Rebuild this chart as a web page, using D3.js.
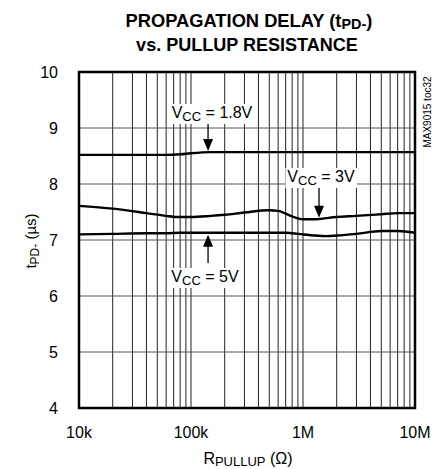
<!DOCTYPE html>
<html><head><meta charset="utf-8">
<script src="https://cdn.jsdelivr.net/npm/d3@7"></script>
<style>body{margin:0;background:#fff}svg{display:block;font-family:"Liberation Sans",Arial,sans-serif}</style>
</head><body><svg id="c" width="436" height="469"></svg>
<script>
const xTickValues = [1e4, 1e5, 1e6, 1e7];
const xTickLabels = ["10k", "100k", "1M", "10M"];
const yTickValues = [4, 5, 6, 7, 8, 9, 10];
const rVals = [1e4, 2e4, 4e4, 6e4, 8e4, 1e5, 1.5e5, 2e5, 3e5, 5e5, 6e5, 7e5, 8e5, 1e6, 1.3e6, 1.6e6, 2e6, 3e6, 5e6, 7e6, 1e7];
const vcc18 = [8.52, 8.52, 8.52, 8.52, 8.53, 8.55, 8.57, 8.57, 8.57, 8.57, 8.57, 8.57, 8.57, 8.57, 8.57, 8.57, 8.57, 8.57, 8.57, 8.57, 8.57];
const vcc3 = [7.61, 7.56, 7.48, 7.43, 7.41, 7.41, 7.43, 7.45, 7.49, 7.53, 7.52, 7.47, 7.42, 7.37, 7.37, 7.39, 7.41, 7.43, 7.46, 7.48, 7.48];
const vcc5 = [7.10, 7.11, 7.12, 7.12, 7.13, 7.13, 7.13, 7.13, 7.13, 7.13, 7.13, 7.13, 7.12, 7.10, 7.08, 7.07, 7.08, 7.11, 7.16, 7.16, 7.13];

const svg = d3.select("#c");
const L = 79, R = 415, T = 72, B = 408;
const x = d3.scaleLog().domain([1e4, 1e7]).range([L, R]);
const y = d3.scaleLinear().domain([4, 10]).range([B, T]);

// title (condensed by horizontal scaling to the reference width)
function condensed(cx, cy, html, width) {
  const t = svg.append("text").attr("x", 0).attr("y", 0).attr("text-anchor", "middle")
    .attr("font-weight", "bold").attr("font-size", 19).html(html);
  const w = t.node().getBBox().width;
  t.attr("transform", `translate(${cx},${cy}) scale(${width / w},1)`);
}
condensed(249, 27, 'PROPAGATION DELAY (t<tspan font-size="15" dy="2">PD-</tspan><tspan dy="-2">)</tspan>', 247);
condensed(247, 51, 'vs. PULLUP RESISTANCE', 222);

// grid
const minor = [];
for (let d = 1e4; d < 1e7; d *= 10) for (let k = 2; k <= 9; k++) minor.push(d * k);
const g = svg.append("g");
g.selectAll("line.v").data(minor.concat(xTickValues)).join("line")
  .attr("x1", d => x(d)).attr("x2", d => x(d)).attr("y1", T).attr("y2", B)
  .attr("stroke", "#222").attr("stroke-width", 1);
g.selectAll("line.h").data(yTickValues).join("line")
  .attr("x1", L).attr("x2", R).attr("y1", d => y(d)).attr("y2", d => y(d))
  .attr("stroke", "#555").attr("stroke-width", 1);

// curves
const line = d3.line().x(d => x(d[0])).y(d => y(d[1])).curve(d3.curveMonotoneX);
[vcc18, vcc3, vcc5].forEach(s => {
  svg.append("path").attr("d", line(rVals.map((r, i) => [r, s[i]])))
    .attr("fill", "none").attr("stroke", "#000").attr("stroke-width", 2.4);
});

// frame
svg.append("rect").attr("x", L).attr("y", T).attr("width", R - L).attr("height", B - T)
  .attr("fill", "none").attr("stroke", "#000").attr("stroke-width", 2.5);

// axes labels
svg.selectAll("text.yt").data(yTickValues).join("text")
  .attr("x", 58).attr("y", d => y(d) + 6).attr("text-anchor", "end").attr("font-size", 16).text(d => d);
svg.selectAll("text.xt").data(xTickValues).join("text")
  .attr("x", d => x(d)).attr("y", 438).attr("text-anchor", "middle").attr("font-size", 16)
  .text((d, i) => xTickLabels[i]);

svg.append("text").attr("x", 248).attr("y", 464).attr("text-anchor", "middle").attr("font-size", 16)
  .html('R<tspan font-size="13" dy="2">PULLUP</tspan><tspan dy="-2"> (Ω)</tspan>');
svg.append("text").attr("transform", "translate(36,241) rotate(-90)").attr("text-anchor", "middle").attr("font-size", 15)
  .html('t<tspan font-size="12" dy="3">PD-</tspan><tspan dy="-3"> (µs)</tspan>');
svg.append("text").attr("transform", "translate(431,112) rotate(-90)").attr("text-anchor", "middle").attr("font-size", 10)
  .text("MAX9015 toc32");

// annotations
function annot(cx, cy, label, ax, ay1, ay2) {
  const t = svg.append("text").attr("x", cx).attr("y", cy).attr("text-anchor", "middle").attr("font-size", 16)
    .html('V<tspan font-size="13" dy="3">CC</tspan><tspan dy="-3"> = ' + label + '</tspan>');
  const bb = t.node().getBBox();
  svg.insert("rect", () => t.node()).attr("x", bb.x - 2).attr("y", bb.y).attr("width", bb.width + 4).attr("height", bb.height)
    .attr("fill", "#fff");
  const dir = ay2 > ay1 ? 1 : -1;
  svg.append("line").attr("x1", ax).attr("x2", ax).attr("y1", ay1).attr("y2", ay2 - dir * 10)
    .attr("stroke", "#000").attr("stroke-width", 1.3);
  svg.append("path").attr("d", `M${ax - 5},${ay2 - dir * 12}L${ax + 5},${ay2 - dir * 12}L${ax},${ay2}Z`).attr("fill", "#000");
}
annot(212, 118, "1.8V", x(1.42e5), 124, y(8.57) - 1);
annot(321, 182, "3V", x(1.39e6), 188, y(7.38) - 1);
annot(205, 282, "5V", x(1.42e5), 263, y(7.13) + 2);
</script></body></html>
